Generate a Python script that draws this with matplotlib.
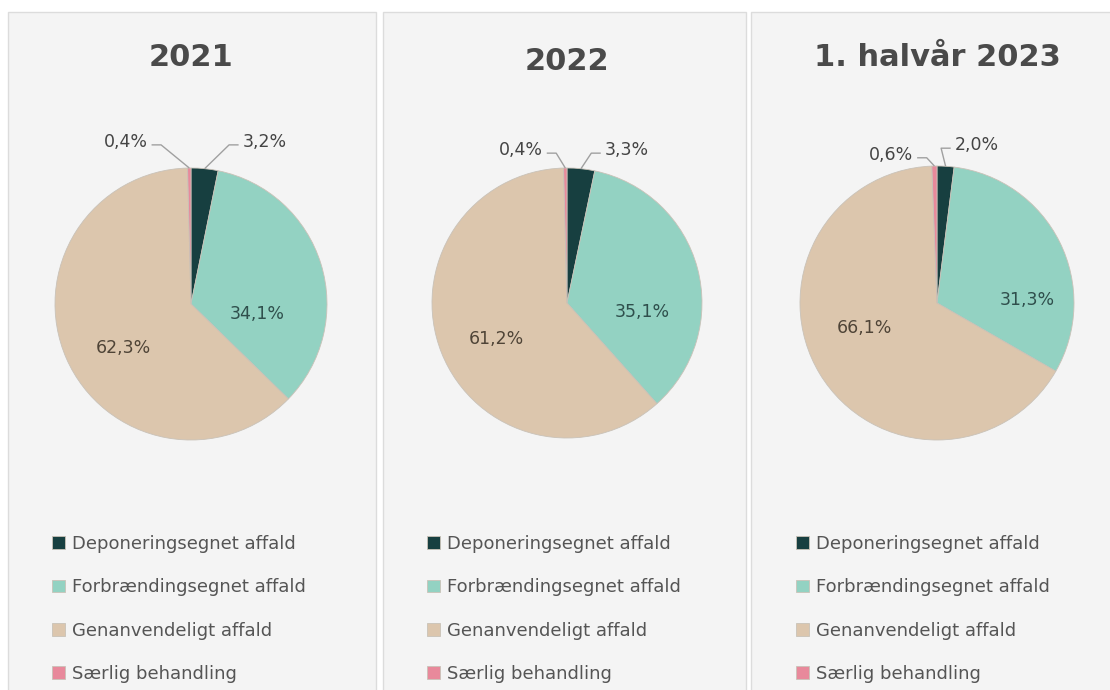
import numpy as np
import matplotlib
matplotlib.use("Agg")
import matplotlib.pyplot as plt
from matplotlib.patches import Rectangle

plt.rcParams["font.family"] = ["DejaVu Sans"]

# ------------------------------------------------------
# data
# ------------------------------------------------------
periods = ["2021", "2022", "1. halvår 2023"]
categories = ["Deponeringsegnet affald", "Forbrændingsegnet affald",
              "Genanvendeligt affald", "Særlig behandling"]
share_2021 = [3.2, 34.1, 62.3, 0.4]
share_2022 = [3.3, 35.1, 61.2, 0.4]
share_2023h1 = [2.0, 31.3, 66.1, 0.6]
shares = [share_2021, share_2022, share_2023h1]

colors = ["#173f40", "#93d2c2", "#dcc6ad", "#e8899b"]
text_colors = ["#444444", "#2f4f4c", "#4f4437", "#444444"]

# ------------------------------------------------------
# layout (pixels, y from top)
# ------------------------------------------------------
W, H = 1110, 690
panels = [(8, 12, 376, 700), (383, 12, 746, 700), (751, 12, 1115, 700)]
centers = [(191, 304), (567, 303), (937, 303)]
radii = [136, 135, 137]
title_y = [58, 62, 58]
# label placement in pie units
inside_pos = [((0.49, -0.07), (-0.50, -0.32)),
              ((0.56, -0.07), (-0.52, -0.27)),
              ((0.66, 0.02), (-0.53, -0.18))]
# outside: left label right edge, right label left edge
small_pos = [((-0.32, 1.19), (0.38, 1.19)),
             ((-0.18, 1.13), (0.28, 1.13)),
             ((-0.175, 1.08), (0.13, 1.15))]
legend_x = [52, 427, 796]
legend_top = 535

fig = plt.figure(figsize=(W / 100, H / 100), dpi=100)
fig.patch.set_facecolor("white")

for x0, y0, x1, y1 in panels:
    fig.add_artist(Rectangle((x0 / W, 1 - y1 / H), (x1 - x0) / W, (y1 - y0) / H,
                             transform=fig.transFigure, facecolor="#f4f4f4",
                             edgecolor="#dcdcdc", linewidth=1.0, zorder=-5))

for i, vals in enumerate(shares):
    cx, cy = centers[i]
    r = radii[i]
    R = 1.6 * r
    ax = fig.add_axes([(cx - R) / W, 1 - (cy + R) / H, 2 * R / W, 2 * R / H])

    wedges, _ = ax.pie(vals, colors=colors, startangle=90, counterclock=False,
                       radius=1.0, wedgeprops=dict(linewidth=0.6, edgecolor="#c9c2b8"))
    ax.set_xlim(-1.6, 1.6)
    ax.set_ylim(-1.6, 1.6)
    ax.set_aspect("equal")
    ax.axis("off")

    # big slices: label inside
    for k, (px, py) in zip((1, 2), inside_pos[i]):
        ax.text(px, py, f"{vals[k]:.1f}%".replace(".", ","),
                ha="center", va="center", fontsize=12.5, color=text_colors[k])

    # small slices: label outside with leader line
    (lx, ly), (rx, ry) = small_pos[i]
    for k, (tx, ty, ha, sgn) in zip((3, 0), ((lx, ly, "right", 1), (rx, ry, "left", -1))):
        w = wedges[k]
        ang = np.deg2rad((w.theta1 + w.theta2) / 2)
        ex, ey = np.cos(ang), np.sin(ang)
        ax.text(tx, ty, f"{vals[k]:.1f}%".replace(".", ","), ha=ha, va="center",
                fontsize=12.5, color="#444444")
        sx = tx + sgn * 0.03
        kx = tx + sgn * 0.10
        ax.plot([sx, kx, ex], [ty - 0.02, ty - 0.02, ey], color="#a0a0a0",
                linewidth=1.0, solid_capstyle="butt")

    fig.text(cx / W, 1 - title_y[i] / H, periods[i], ha="center", va="center",
             fontsize=22, fontweight="bold", color="#4a4a4a")

    fig.legend(wedges, categories, loc="upper left",
               bbox_to_anchor=(legend_x[i] / W, 1 - legend_top / H),
               frameon=False, fontsize=13, labelcolor="#555555",
               handlelength=0.7, handleheight=0.7, handletextpad=0.4,
               labelspacing=1.4, borderaxespad=0, borderpad=0)

fig.savefig("out.png", dpi=100, facecolor="white")
